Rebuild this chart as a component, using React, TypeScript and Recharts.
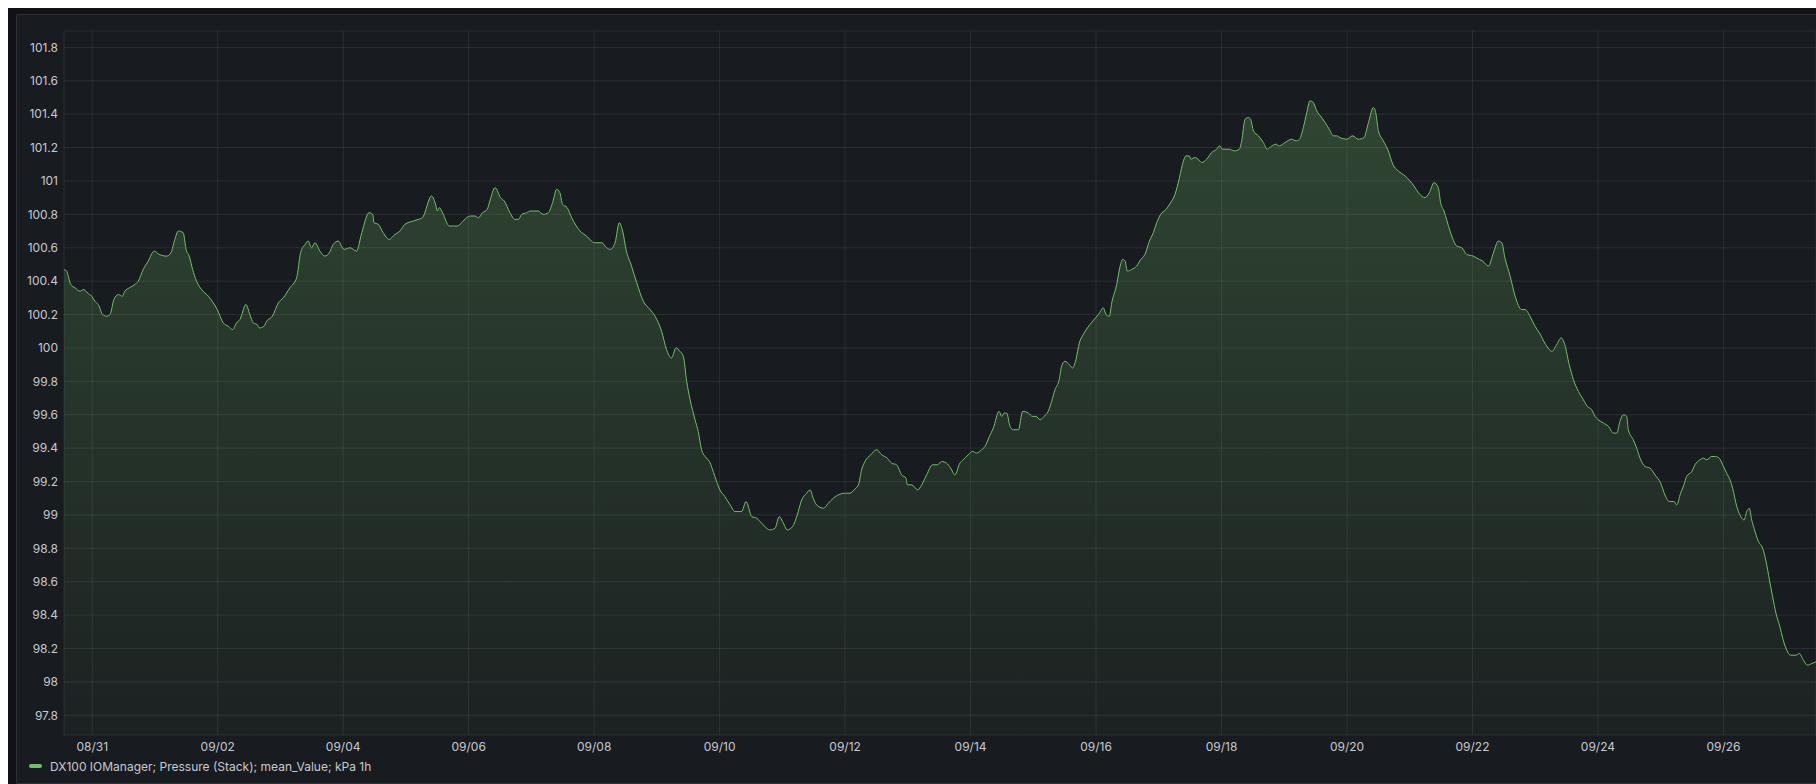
import { AreaChart, Area, XAxis, YAxis, CartesianGrid } from 'recharts'

// hours since 08/31 00:00
const hours = [
  -10.8, -9.8, -8.2, -6.6, -4.7, -3.2, -1.9, -0.2, 1.0, 2.3, 4.0, 5.5, 6.8, 8.3, 10.0, 11.5, 12.5, 14.2, 16.3, 17.6,
  19.5, 21.4, 23.7, 25.6, 28.5, 30.1, 31.6, 32.9, 34.8, 35.9, 37.1, 38.4, 39.9, 41.8, 44.4, 46.3, 47.8, 50.1, 52.0, 53.7,
  55.2, 56.5, 58.8, 60.3, 61.6, 63.1, 63.9, 65.7, 66.7, 68.9, 71.2, 73.1, 75.6, 78.2, 79.7, 81.4, 82.6, 83.9, 85.2, 87.1,
  89.0, 90.7, 92.2, 94.1, 96.3,
  98.6, 101.1, 103.1, 105.9, 107.3, 107.8, 109.4, 111.3, 113.6, 115.8, 117.7, 119.6, 122.8, 124.7, 126.3, 129.8, 131.5,
  132.0, 132.8, 134.0, 136.6, 138.1, 139.6, 141.3, 143.2, 144.8, 146.4, 147.7, 149.3, 151.1, 152.1, 154.1, 156.2, 157.6,
  159.8, 161.7, 163.0, 164.3, 166.2, 167.4, 170.6, 172.5, 174.5, 176.1, 177.7, 178.9, 179.9, 181.7, 183.4, 186.6, 189.1,
  192.1, 194.9, 196.8, 198.1, 200.0, 201.6, 202.9, 204.2, 206.3, 208.3, 210.8, 213.4, 215.3,
  217.8, 219.7, 221.6, 223.3, 224.8, 226.1, 227.4, 228.7, 230.6, 231.8, 233.1, 234.4, 236.1, 238.2, 240.1, 242.0, 244.0,
  245.9, 247.1, 248.4, 250.1, 252.3, 254.2, 256.1, 258.0, 259.3, 261.2, 262.8, 264.1, 265.9, 267.9, 269.7, 271.4, 273.3,
  274.6, 275.8, 277.1, 279.7, 281.6, 283.5, 285.4, 288.0, 289.9, 291.4, 293.1, 294.3, 295.6, 297.8, 300.1, 302.0, 304.1,
  305.8, 307.7, 309.6, 311.3, 311.8, 313.5, 315.8, 317.3, 319.2, 321.5, 323.3, 324.9, 326.8, 328.4, 330.0,
  331.9, 333.2, 335.1, 336.8, 338.3, 340.2, 341.5, 343.2, 344.7, 346.9, 347.9, 348.8, 349.8, 351.1, 352.4, 354.3, 355.9,
  358.1, 359.7, 361.0, 362.6, 364.1, 365.7, 367.0, 368.3, 369.9, 370.8, 372.1, 373.8, 375.0, 376.3, 377.6, 379.1, 380.7,
  382.7, 384.9, 386.8, 387.8, 389.1, 390.0, 391.9, 393.2, 394.2, 395.1, 396.0, 397.6, 399.5, 401.1, 402.7, 404.4, 405.9,
  407.2, 408.7, 410.8, 412.5, 414.2, 415.9, 417.4, 418.4, 419.7, 420.3, 421.8, 423.1, 424.4, 426.3, 428.2, 430.1, 431.2,
  432.4, 435.0, 436.8, 438.8, 439.7, 441.0, 442.3,
  443.1, 444.2, 446.1, 448.0, 449.5, 451.2, 452.8, 454.1, 456.3, 458.8, 460.5, 461.8, 463.3, 464.6, 465.8, 467.1, 468.4,
  470.3, 471.6, 473.2, 474.8, 476.0, 477.3, 479.9, 482.2, 484.3, 486.5, 488.2, 490.1, 491.1, 492.0, 493.9, 495.8, 497.5,
  499.6, 502.2, 504.1, 505.6, 507.3, 509.8, 511.5, 513.3, 514.9, 515.8, 517.1, 519.4, 522.0, 523.9, 525.8, 528.3, 530.6,
  531.9, 534.1, 536.0, 537.9, 539.2, 540.4, 542.4, 544.3, 546.8, 548.1, 550.3, 551.9, 553.6,
  556.0, 558.4, 560.2, 561.9, 563.3, 565.0,
  566.6, 568.5, 570.4, 571.9, 573.6, 574.9, 576.1, 578.1, 580.0, 581.9, 583.2, 584.4, 585.7, 587.0, 587.6, 589.5, 590.8,
  592.1, 594.0, 595.9, 597.8, 600.0, 601.6, 603.3, 605.1, 606.1, 607.6, 608.9, 609.9, 611.9, 613.1, 615.0, 616.3, 617.6,
  619.5, 621.0, 622.4, 623.7, 625.2, 626.5, 627.5, 629.1, 630.3, 631.9, 632.9, 633.9, 634.8, 635.7, 637.4, 639.0, 640.3,
  641.6, 642.8, 644.1, 645.6, 646.7, 648.2, 649.7, 651.8, 653.0, 654.6, 656.1, 657.8, 659.4,
]

const kPa = [
  100.47, 100.46, 100.38, 100.36, 100.34, 100.35, 100.33, 100.31, 100.28, 100.26, 100.2, 100.19, 100.2, 100.29, 100.32,
  100.31, 100.34, 100.36, 100.38, 100.4, 100.47, 100.52, 100.58, 100.56, 100.55, 100.57, 100.65, 100.7, 100.69, 100.59,
  100.55, 100.47, 100.4, 100.35, 100.31, 100.27, 100.23, 100.15, 100.13, 100.11, 100.15, 100.17, 100.26, 100.2, 100.15,
  100.14, 100.12, 100.13, 100.16, 100.19, 100.27, 100.3, 100.36, 100.42, 100.57, 100.62, 100.64, 100.6, 100.63, 100.58,
  100.55, 100.57, 100.62, 100.64, 100.59,
  100.6, 100.58, 100.69, 100.81, 100.8, 100.75, 100.74, 100.69, 100.65, 100.68, 100.7, 100.74, 100.76, 100.77, 100.78,
  100.91, 100.85, 100.82, 100.84, 100.81, 100.73, 100.73, 100.73, 100.75, 100.78, 100.79, 100.79, 100.78, 100.81, 100.83,
  100.88, 100.96, 100.9, 100.88, 100.81, 100.77, 100.77, 100.8, 100.81, 100.82, 100.82, 100.8, 100.81, 100.87, 100.95,
  100.93, 100.86, 100.84, 100.78, 100.7, 100.67, 100.63, 100.63, 100.6, 100.59, 100.63, 100.75, 100.7, 100.59, 100.49,
  100.39, 100.28, 100.23, 100.19,
  100.1, 99.99, 99.94, 100.0, 99.98, 99.95, 99.8, 99.69, 99.57, 99.5, 99.39, 99.35, 99.32, 99.23, 99.15, 99.11, 99.06,
  99.02, 99.02, 99.02, 99.08, 98.99, 98.98, 98.95, 98.92, 98.91, 98.92, 98.99, 98.96, 98.91, 98.93, 99.0, 99.09, 99.13,
  99.15, 99.1, 99.06, 99.04, 99.07, 99.1, 99.12, 99.13, 99.13, 99.15, 99.18, 99.27, 99.32, 99.36, 99.39, 99.36, 99.34,
  99.31, 99.3, 99.24, 99.22, 99.18, 99.18, 99.15, 99.18, 99.24, 99.3, 99.3, 99.32, 99.31, 99.28, 99.24,
  99.31, 99.33, 99.36, 99.38, 99.37, 99.39, 99.41, 99.47, 99.52, 99.62, 99.59, 99.61, 99.61, 99.53, 99.51, 99.51, 99.62,
  99.61, 99.59, 99.59, 99.57, 99.59, 99.62, 99.68, 99.75, 99.81, 99.89, 99.92, 99.9, 99.88, 99.93, 100.03, 100.08,
  100.12, 100.16, 100.2, 100.24, 100.2, 100.19, 100.27, 100.38, 100.49, 100.53, 100.52, 100.46, 100.47, 100.49, 100.53,
  100.56, 100.64, 100.69, 100.75, 100.8, 100.83, 100.87, 100.92, 101.02, 101.12, 101.15, 101.15, 101.13, 101.14, 101.13,
  101.11, 101.13, 101.17, 101.19, 101.21, 101.19, 101.19, 101.18, 101.19, 101.24, 101.37, 101.38,
  101.37, 101.3, 101.27, 101.23, 101.19, 101.21, 101.22, 101.21, 101.23, 101.25, 101.24, 101.25, 101.32, 101.41, 101.48,
  101.47, 101.42, 101.38, 101.35, 101.31, 101.27, 101.27, 101.26, 101.25, 101.27, 101.25, 101.26, 101.35, 101.44, 101.4,
  101.3, 101.24, 101.18, 101.1, 101.06, 101.03, 101.0, 100.97, 100.93, 100.9, 100.93, 100.99, 100.96, 100.87, 100.82,
  100.7, 100.61, 100.6, 100.56, 100.55, 100.53, 100.52, 100.49, 100.57, 100.64, 100.63, 100.54, 100.43, 100.31, 100.23,
  100.23, 100.18, 100.13, 100.09,
  100.02, 99.98, 100.02, 100.06, 100.02, 99.9,
  99.81, 99.74, 99.69, 99.65, 99.63, 99.59, 99.57, 99.55, 99.53, 99.49, 99.49, 99.56, 99.6, 99.59, 99.51, 99.45, 99.4,
  99.34, 99.29, 99.28, 99.24, 99.19, 99.12, 99.08, 99.08, 99.06, 99.13, 99.18, 99.23, 99.26, 99.3, 99.33, 99.34, 99.33,
  99.35, 99.35, 99.34, 99.3, 99.25, 99.21, 99.16, 99.05, 99.0, 98.97, 99.02, 99.04, 98.97, 98.92, 98.84, 98.8, 98.72,
  98.61, 98.51, 98.41, 98.33, 98.26, 98.19, 98.16, 98.16, 98.17, 98.13, 98.1, 98.11, 98.12,
]

const xTicks = [0, 48, 96, 144, 192, 240, 288, 336, 384, 432, 480, 528, 576, 624]
const xTickLabels = [
  '08/31', '09/02', '09/04', '09/06', '09/08', '09/10', '09/12',
  '09/14', '09/16', '09/18', '09/20', '09/22', '09/24', '09/26',
]
const yTicks = [
  97.8, 98, 98.2, 98.4, 98.6, 98.8, 99, 99.2, 99.4, 99.6, 99.8,
  100, 100.2, 100.4, 100.6, 100.8, 101, 101.2, 101.4, 101.6, 101.8,
]

const SERIES_NAME = 'DX100 IOManager; Pressure (Stack); mean_Value; kPa 1h'
const GREEN = '#73bf69'
const TEXT = '#c7c9d1'
const FONT = 'Inter, sans-serif'

const data = hours.map((h, i) => ({ h, value: kPa[i] }))

export default function App() {
  return (
    <div
      style={{
        position: 'absolute',
        left: 8,
        top: 8,
        width: 1808,
        height: 776,
        background: '#111217',
        overflow: 'hidden',
      }}
    >
      <div
        style={{
          position: 'absolute',
          left: 8,
          top: 6,
          width: 1810,
          height: 770,
          boxSizing: 'border-box',
          background: '#181b1f',
          border: '1px solid rgba(204,204,220,0.12)',
          borderRadius: 2,
        }}
      >
        <AreaChart
          width={1799}
          height={760}
          data={data}
          margin={{ top: 16, right: 0, left: 0, bottom: 16 }}
        >
          <defs>
            <linearGradient id="pressureFill" x1="0" y1="0" x2="0" y2="1">
              <stop offset="0%" stopColor={GREEN} stopOpacity={0.26} />
              <stop offset="100%" stopColor={GREEN} stopOpacity={0.04} />
            </linearGradient>
          </defs>
          <CartesianGrid stroke="rgba(204,204,220,0.1)" />
          <XAxis
            dataKey="h"
            type="number"
            domain={[-10.8, 659.4]}
            allowDataOverflow
            ticks={xTicks}
            tickFormatter={(v) => xTickLabels[xTicks.indexOf(v)] ?? ''}
            axisLine={false}
            tickLine={false}
            tickSize={0}
            tickMargin={7}
            height={24}
            tick={{ fill: TEXT, fontSize: 12, fontFamily: FONT }}
            interval={0}
          />
          <YAxis
            type="number"
            domain={[97.682, 101.898]}
            allowDataOverflow
            ticks={yTicks}
            tickFormatter={(v) => String(v)}
            axisLine={false}
            tickLine={false}
            tickSize={0}
            tickMargin={6}
            width={47}
            tick={{ fill: TEXT, fontSize: 12, fontFamily: FONT }}
            interval={0}
          />
          <Area
            type="monotone"
            dataKey="value"
            stroke={GREEN}
            strokeWidth={1}
            fill="url(#pressureFill)"
            fillOpacity={1}
            dot={false}
            activeDot={false}
            isAnimationActive={false}
          />
        </AreaChart>
        <div
          style={{
            position: 'absolute',
            left: 12,
            top: 743,
            height: 16,
            display: 'flex',
            alignItems: 'center',
            fontFamily: FONT,
            fontSize: 12,
            color: TEXT,
            whiteSpace: 'nowrap',
          }}
        >
          <span
            style={{
              display: 'inline-block',
              width: 13,
              height: 4,
              borderRadius: 2,
              background: GREEN,
              marginRight: 8,
            }}
          />
          {SERIES_NAME}
        </div>
      </div>
    </div>
  )
}
